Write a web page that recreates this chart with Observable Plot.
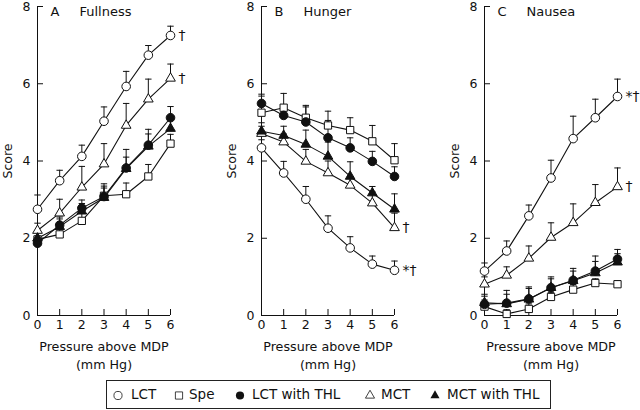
<!DOCTYPE html>
<html><head><meta charset="utf-8">
<script src="https://cdn.jsdelivr.net/npm/d3@7"></script>
<script src="https://cdn.jsdelivr.net/npm/@observablehq/plot@0.6"></script>
<style>
body{margin:0;background:#fff;font-family:"DejaVu Sans",sans-serif;}
#wrap{position:relative;width:640px;height:410px;overflow:hidden;}
.panel{position:absolute;top:0;}
#legend{position:absolute;left:106px;top:380px;width:445px;height:29px;border:1px solid #222;box-sizing:border-box;}
.lsym{position:absolute;top:389px;}
.ltxt{position:absolute;top:386px;font-size:13.5px;color:#111;white-space:nowrap;}
</style></head><body><div id="wrap"><div id="legend"></div></div>
<script>
// ---------- data ----------
const pressure = [0, 1, 2, 3, 4, 5, 6];
const seriesNames = ["LCT", "Spe", "LCT with THL", "MCT", "MCT with THL"];
const panelLetters = ["A", "B", "C"];
const panelNames = ["Fullness", "Hunger", "Nausea"];
const yTicks = [0, 2, 4, 6, 8];

// Fullness (A): means and upper end of error bar
const fullnessLCT      = [2.75, 3.49, 4.12, 5.03, 5.93, 6.74, 7.25];
const fullnessSpe      = [1.97, 2.10, 2.45, 3.10, 3.14, 3.60, 4.45];
const fullnessLCTTHL   = [1.87, 2.34, 2.78, 3.08, 3.82, 4.41, 5.12];
const fullnessMCT      = [2.20, 2.65, 3.32, 3.92, 4.92, 5.60, 6.14];
const fullnessMCTTHL   = [2.00, 2.30, 2.70, 3.05, 3.80, 4.38, 4.84];
const fullnessLCTUp    = [3.12, 3.76, 4.41, 5.40, 6.32, 6.99, 7.49];
const fullnessSpeUp    = [2.20, 2.30, 2.70, 3.41, 3.43, 3.91, 4.69];
const fullnessLCTTHLUp = [2.05, 2.55, 2.99, 3.35, 4.30, 4.82, 5.41];
const fullnessMCTUp    = [2.39, 3.01, 3.86, 4.45, 5.49, 6.12, 6.51];
const fullnessMCTTHLUp = [2.15, 2.50, 2.90, 3.30, 4.10, 4.70, 5.10];

// Hunger (B)
const hungerLCT      = [4.34, 3.69, 3.01, 2.26, 1.75, 1.33, 1.17];
const hungerSpe      = [5.25, 5.38, 5.12, 4.92, 4.80, 4.51, 4.02];
const hungerLCTTHL   = [5.49, 5.18, 5.01, 4.60, 4.34, 3.99, 3.60];
const hungerMCT      = [4.71, 4.49, 3.99, 3.69, 3.37, 2.91, 2.27];
const hungerMCTTHL   = [4.77, 4.66, 4.43, 4.12, 3.60, 3.17, 2.75];
const hungerLCTUp    = [4.55, 3.99, 3.34, 2.58, 2.04, 1.54, 1.41];
const hungerSpeUp    = [5.68, 5.75, 5.44, 5.29, 5.12, 4.92, 4.45];
const hungerLCTTHLUp = [5.73, 5.40, 5.40, 5.05, 4.60, 4.25, 3.85];
const hungerMCTUp    = [4.90, 4.70, 4.30, 4.00, 3.60, 3.20, 2.65];
const hungerMCTTHLUp = [4.99, 4.90, 4.80, 4.49, 3.98, 3.34, 3.15];

// Nausea (C)
const nauseaLCT      = [1.15, 1.67, 2.58, 3.56, 4.58, 5.12, 5.67];
const nauseaSpe      = [0.23, 0.04, 0.17, 0.48, 0.67, 0.84, 0.81];
const nauseaLCTTHL   = [0.29, 0.32, 0.43, 0.72, 0.91, 1.15, 1.46];
const nauseaMCT      = [0.81, 1.04, 1.48, 2.02, 2.40, 2.92, 3.33];
const nauseaMCTTHL   = [0.33, 0.30, 0.42, 0.72, 0.90, 1.10, 1.38];
const nauseaLCTUp    = [1.36, 1.93, 2.86, 4.02, 5.16, 5.60, 6.12];
const nauseaSpeUp    = [0.40, 0.15, 0.30, 0.60, 0.80, 0.95, 0.90];
const nauseaLCTTHLUp = [0.55, 0.65, 0.74, 1.00, 1.22, 1.54, 1.71];
const nauseaMCTUp    = [1.00, 1.26, 1.80, 2.40, 2.89, 3.39, 3.82];
const nauseaMCTTHLUp = [0.50, 0.55, 0.70, 0.95, 1.15, 1.40, 1.60];

// significance marks at 6 mm Hg
const annotSeries = [["LCT", "MCT"], ["MCT", "LCT"], ["LCT", "MCT"]];
const annotText   = [["†", "†"], ["†", "*†"], ["*†", "†"]];

const means = [
  [fullnessLCT, fullnessSpe, fullnessLCTTHL, fullnessMCT, fullnessMCTTHL],
  [hungerLCT, hungerSpe, hungerLCTTHL, hungerMCT, hungerMCTTHL],
  [nauseaLCT, nauseaSpe, nauseaLCTTHL, nauseaMCT, nauseaMCTTHL]
];
const uppers = [
  [fullnessLCTUp, fullnessSpeUp, fullnessLCTTHLUp, fullnessMCTUp, fullnessMCTTHLUp],
  [hungerLCTUp, hungerSpeUp, hungerLCTTHLUp, hungerMCTUp, hungerMCTTHLUp],
  [nauseaLCTUp, nauseaSpeUp, nauseaLCTTHLUp, nauseaMCTUp, nauseaMCTTHLUp]
];

// ---------- style ----------
const ink = "#111";
const font = "'DejaVu Sans', sans-serif";
const symbols = {"LCT": "circle", "Spe": "square", "LCT with THL": "circle", "MCT": "triangle", "MCT with THL": "triangle"};
const fills = {"LCT": "white", "Spe": "white", "LCT with THL": ink, "MCT": "white", "MCT with THL": ink};
const radii = {"circle": 4.3, "square": 4.1, "triangle": 3.6};
const cap = {draw(ctx) { ctx.moveTo(-3.2, 0); ctx.lineTo(3.2, 0); }};

const layout = [
  {left: 0, ml: 37, w: 213},
  {left: 213, ml: 48, w: 213},
  {left: 426, ml: 58, w: 214}
];
const H = 372, MT = 6, MB = 57;

const wrap = document.getElementById("wrap");

layout.forEach((L, p) => {
  const mr = L.w - L.ml - 133;
  const rows = [];
  seriesNames.forEach((s, si) => {
    pressure.forEach((x, i) => rows.push({series: s, x, y: means[p][si][i], top: uppers[p][si][i]}));
  });
  const marks = [
    Plot.ruleX([0], {stroke: ink}),
    Plot.ruleY([0], {stroke: ink}),
    Plot.tickY(yTicks.filter(d => d > 0), {y: d => d, insetRight: 133 - 6, stroke: ink}),
    Plot.tickX(pressure.filter(d => d > 0), {x: d => d, insetTop: (H - MT - MB) - 6, stroke: ink}),
    Plot.text([panelLetters[p]], {text: d => d, frameAnchor: "top-left", dx: 13, dy: 0, lineAnchor: "top", fontSize: 13, fill: ink}),
    Plot.text([panelNames[p]], {text: d => d, frameAnchor: "top-left", dx: 42, dy: 0, lineAnchor: "top", fontSize: 13, fill: ink}),
    Plot.text(["Pressure above MDP\n(mm Hg)"], {text: d => d, frameAnchor: "bottom", lineAnchor: "top", dy: 22, lineHeight: 1.45, fontSize: 12.7, fill: ink})
  ];
  seriesNames.forEach(s => {
    marks.push(Plot.line(rows.filter(r => r.series === s), {x: "x", y: "y", stroke: ink, strokeWidth: 1.1}));
  });
  seriesNames.forEach(s => {
    const d = rows.filter(r => r.series === s);
    marks.push(Plot.ruleX(d, {x: "x", y1: "y", y2: "top", stroke: ink, strokeWidth: 1}));
    marks.push(Plot.dot(d, {x: "x", y: "top", symbol: cap, r: 3, fill: "none", stroke: ink, strokeWidth: 1}));
  });
  seriesNames.forEach(s => {
    const d = rows.filter(r => r.series === s);
    marks.push(Plot.dot(d, {x: "x", y: "y", symbol: symbols[s], r: radii[symbols[s]], fill: fills[s], stroke: ink, strokeWidth: 1}));
  });
  const ann = annotSeries[p].map((s, k) => ({x: 6, y: means[p][seriesNames.indexOf(s)][6], text: annotText[p][k]}));
  marks.push(Plot.text(ann, {x: "x", y: "y", text: "text", dx: 8, textAnchor: "start", fontSize: 14, fontFamily: font, fill: ink}));

  const svg = Plot.plot({
    width: L.w, height: H,
    marginLeft: L.ml, marginRight: mr, marginTop: MT, marginBottom: MB,
    style: {fontFamily: font, fontSize: "12.5px", color: ink, background: "transparent"},
    x: {domain: [0, 6], ticks: pressure, tickSize: 0, tickPadding: 5, tickFormat: d => String(d), label: null},
    y: {domain: [0, 8], ticks: yTicks, tickSize: 0, tickPadding: 7, label: "Score", labelAnchor: "center", labelArrow: "none", labelOffset: 34},
    marks
  });
  svg.classList.add("panel");
  svg.style.left = L.left + "px";
  svg.style.overflow = "visible";
  wrap.appendChild(svg);
});

// ---------- legend ----------
const legendSymX = [118, 179, 240, 370, 435];
const legendTxtX = [131, 189, 252, 381, 447];
seriesNames.forEach((s, i) => {
  const sym = symbols[s];
  const ns = "http://www.w3.org/2000/svg";
  const sv = document.createElementNS(ns, "svg");
  sv.setAttribute("width", 12); sv.setAttribute("height", 12);
  sv.setAttribute("class", "lsym");
  sv.style.left = (legendSymX[i] - 6) + "px";
  const g = document.createElementNS(ns, "path");
  const gen = d3.symbol(sym === "circle" ? d3.symbolCircle : sym === "square" ? d3.symbolSquare : d3.symbolTriangle, sym === "triangle" ? 36 : 52);
  g.setAttribute("d", gen());
  g.setAttribute("transform", "translate(6,6.5)");
  g.setAttribute("fill", fills[s] === "white" ? "white" : ink);
  g.setAttribute("stroke", ink);
  g.setAttribute("stroke-width", fills[s] === "white" ? 0.8 : 0);
  sv.appendChild(g);
  wrap.appendChild(sv);
  const t = document.createElement("div");
  t.className = "ltxt";
  t.style.left = legendTxtX[i] + "px";
  t.textContent = s;
  wrap.appendChild(t);
});
</script></body></html>
